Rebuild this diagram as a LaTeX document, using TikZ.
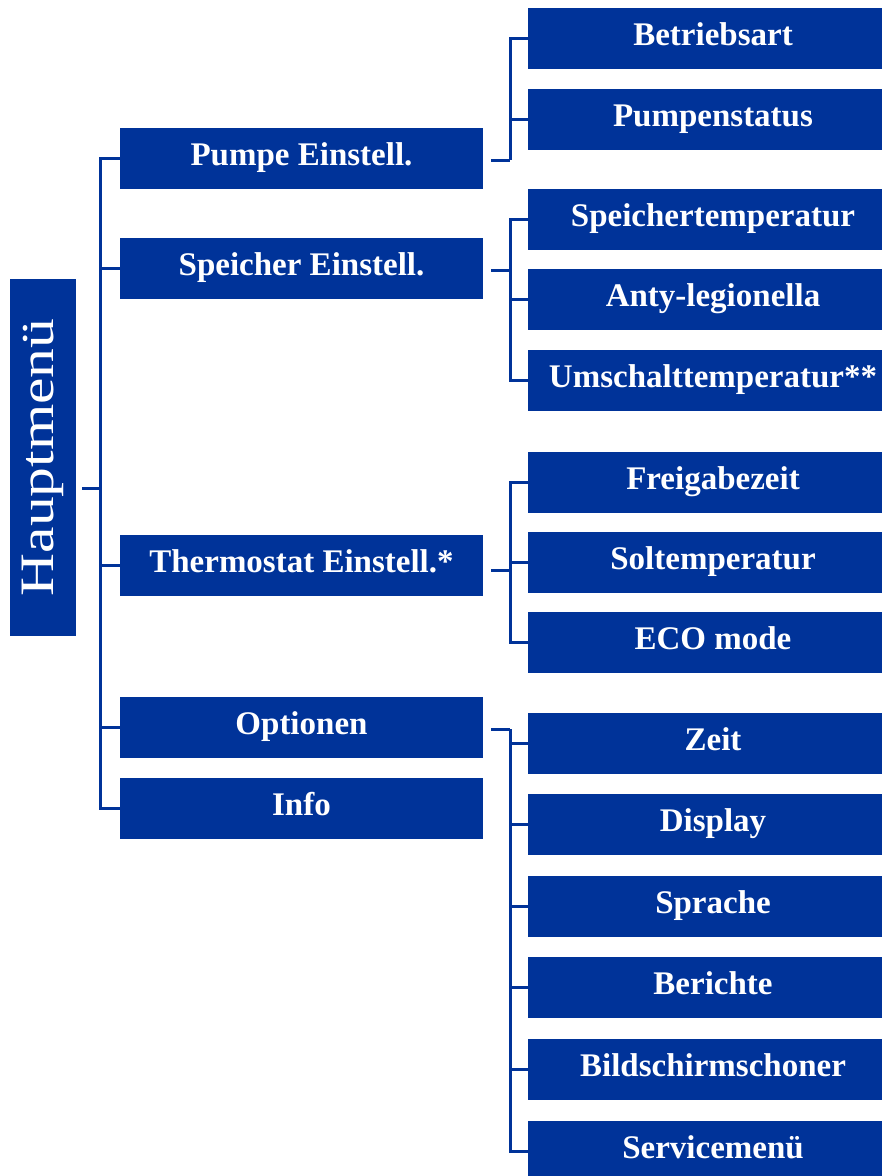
\documentclass[tikz,border=0pt]{standalone}
\usepackage{fontspec}
\setmainfont{Liberation Serif}
\definecolor{mainblue}{RGB}{0,51,153}
\begin{document}
\begin{tikzpicture}[x=1pt,y=-1pt,
  box/.style={fill=mainblue, text=white, inner sep=0pt, anchor=center,
    font=\fontsize{33}{38}\selectfont\bfseries, text height=23pt, text depth=9pt},
  lone/.style={box, minimum width=363pt, minimum height=61pt},
  ltwo/.style={box, minimum width=370pt, minimum height=61pt},
  conn/.style={draw=mainblue, line width=3pt}]
\useasboundingbox (0,0) rectangle (882,1176);
\begin{scope}
\clip (0,0) rectangle (882,1176);
% root
\node[fill=mainblue, text=white, inner sep=0pt, minimum width=357pt, minimum height=66pt,
  rotate=90, font=\fontsize{48}{52}\selectfont] (haupt) at (43,457.5) {\scalebox{1.24}[1]{Hauptmenü}};
% level 1
\node[lone] (pumpe) at (301.5,158.5) {Pumpe Einstell.};
\node[lone] (speicher) at (301.5,268.5) {Speicher Einstell.};
\node[lone] (thermo) at (301.5,565) {Thermostat Einstell.*};
\node[lone] (opt) at (301.5,727) {Optionen};
\node[lone] (info) at (301.5,808.5) {Info};
% level 2
\node[ltwo] (betrieb) at (713,38.5) {Betriebsart};
\node[ltwo] (pstatus) at (713,119.5) {Pumpenstatus};
\node[ltwo] (stemp) at (713,219.5) {Speichertemperatur};
\node[ltwo] (anty) at (713,299.5) {Anty-legionella};
\node[ltwo] (umsch) at (713,380.5) {Umschalttemperatur**};
\node[ltwo] (frei) at (713,482.5) {Freigabezeit};
\node[ltwo] (sol) at (713,562.5) {Soltemperatur};
\node[ltwo] (eco) at (713,642.5) {ECO mode};
\node[ltwo] (zeit) at (713,743.5) {Zeit};
\node[ltwo] (disp) at (713,824.5) {Display};
\node[ltwo] (spr) at (713,906.5) {Sprache};
\node[ltwo] (ber) at (713,987.5) {Berichte};
\node[ltwo] (bild) at (713,1069.5) {Bildschirmschoner};
\node[ltwo] (serv) at (713,1151.5) {Servicemenü};
% junctions
\coordinate (tr) at (100,488);
\coordinate (jp) at (510,160);
\coordinate (js) at (510,270);
\coordinate (jt) at (510,570);
\coordinate (jo) at (510,729);
% root connectors
\draw[conn] ([xshift=6pt]haupt.south |- tr) -- (tr);
\foreach \n in {pumpe,speicher,thermo,opt,info}
  \draw[conn] (tr) |- (\n.west);
% level 2 connectors
\draw[conn] ([xshift=8pt]pumpe.east |- jp) -- (jp);
\foreach \n in {betrieb,pstatus} \draw[conn] (jp) |- (\n.west);
\draw[conn] ([xshift=8pt]speicher.east |- js) -- (js);
\foreach \n in {stemp,anty,umsch} \draw[conn] (js) |- (\n.west);
\draw[conn] ([xshift=8pt]thermo.east |- jt) -- (jt);
\foreach \n in {frei,sol,eco} \draw[conn] (jt) |- (\n.west);
\draw[conn] ([xshift=8pt]opt.east |- jo) -- (jo);
\foreach \n in {zeit,disp,spr,ber,bild,serv} \draw[conn] (jo) |- (\n.west);
\end{scope}
\end{tikzpicture}
\end{document}
